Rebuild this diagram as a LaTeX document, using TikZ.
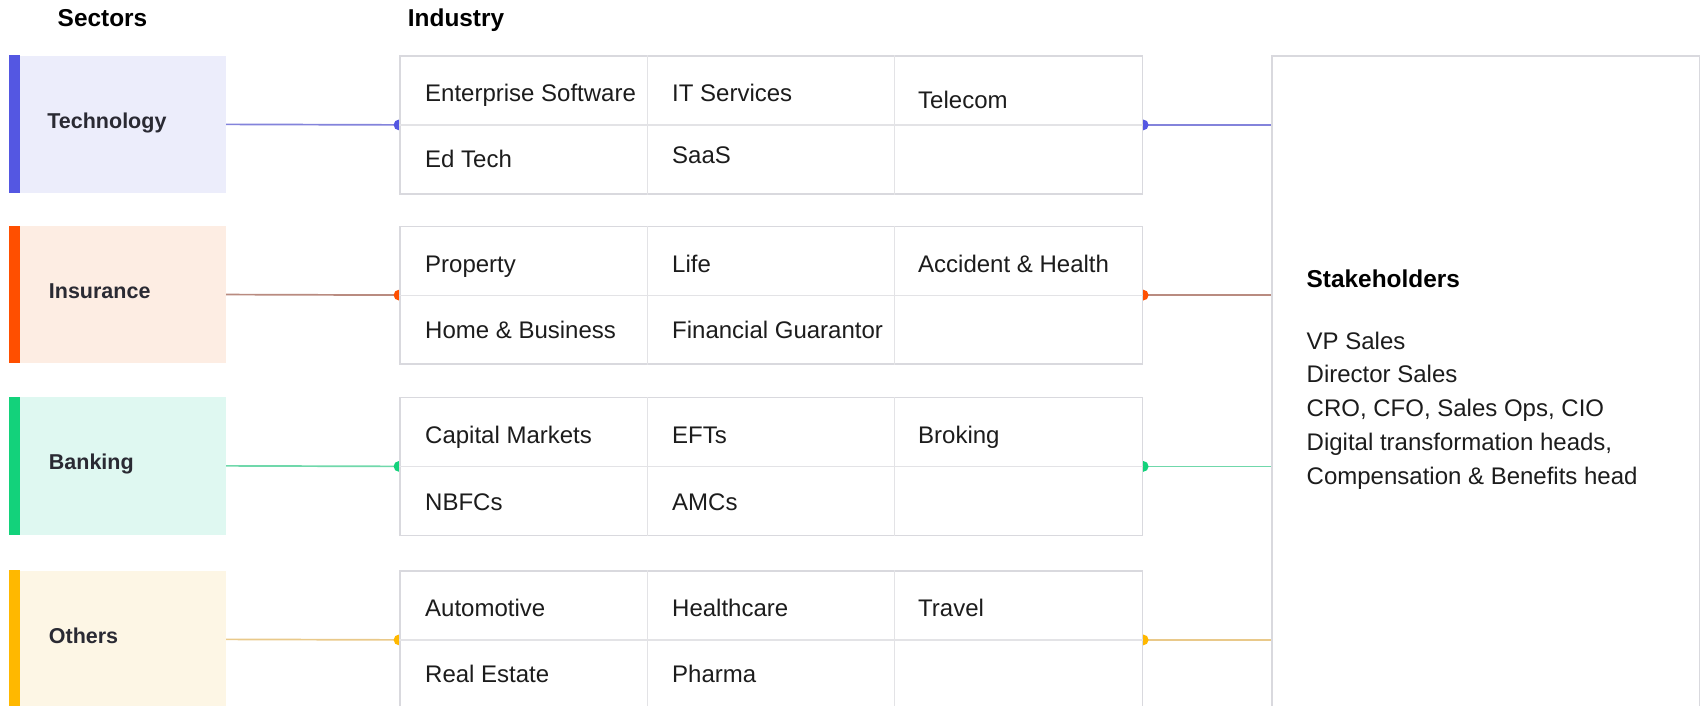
\documentclass[tikz,border=0pt]{standalone}
\usepackage{fontspec}
\setmainfont{Liberation Sans}
\usetikzlibrary{
    positioning, % For relative placement
    backgrounds  % For drawing connectors behind the boxes
}

\definecolor{techaccent}{HTML}{5457E2}
\definecolor{techfill}{HTML}{ECEDFB}
\definecolor{techline}{HTML}{8383DB}
\definecolor{insaccent}{HTML}{FF4F00}
\definecolor{insfill}{HTML}{FDEDE3}
\definecolor{insline}{HTML}{B98B80}
\definecolor{bankaccent}{HTML}{13D27B}
\definecolor{bankfill}{HTML}{DFF8F1}
\definecolor{bankline}{HTML}{70D8AB}
\definecolor{othaccent}{HTML}{FFB800}
\definecolor{othfill}{HTML}{FDF6E5}
\definecolor{othline}{HTML}{E9C98A}
\definecolor{sectortext}{HTML}{2A2A33}
\definecolor{bodytext}{HTML}{1C1C1C}
\definecolor{tableborder}{HTML}{D9D9DE}
\definecolor{gridgray}{HTML}{E3E3E6}

\begin{document}
\begin{tikzpicture}[
    x=1pt, y=-1pt, % One unit per pixel, y pointing down
    headtitle/.style={font=\fontsize{24.4}{28}\selectfont\bfseries, inner sep=0pt, text height=17.5pt, text depth=0pt},
    sectorbox/.style={minimum width=216.8pt, minimum height=137.7pt, anchor=north west, inner sep=0pt},
    sectorlabel/.style={font=\fontsize{21.5}{25}\selectfont\bfseries, text=sectortext, anchor=west, inner sep=0pt, text height=15.4pt, text depth=0pt},
    industrybox/.style={draw=tableborder, line width=1.5pt, fill=white, minimum width=742.7pt, minimum height=137.7pt, anchor=north west, inner sep=0pt},
    gridline/.style={draw=gridgray, line width=1.2pt},
    cell/.style={font=\fontsize{24}{28}\selectfont, text=bodytext, anchor=west, inner sep=0pt, text height=17.2pt, text depth=0pt},
    stakebox/.style={draw=tableborder, line width=2pt, fill=white, minimum width=428.5pt, minimum height=680pt, anchor=north west, inner sep=0pt},
    connector/.style={line width=1.7pt}
]

    \useasboundingbox (0,0) rectangle (1700,705);

    % Column positions of the industry cells
    \def\colA{425}
    \def\colB{672}
    \def\colC{918}
    \def\dotr{5.4} % Radius of the connector dots

    % Titles
    \node[headtitle] (sectorshead) at (102.5, 17.3) {Sectors};
    \node[headtitle, anchor=west] (industryhead) at (407.7, 17.3) {Industry};

    % Sector boxes with accent bars
    \node[sectorbox, fill=techfill] (tech) at (8.7, 55.3) {};
    \fill[techaccent] (tech.north west) rectangle ++(10.8, 137.7);
    \node[sectorlabel, right=38.5pt of tech.west, yshift=4pt] (techlabel) {Technology};

    \node[sectorbox, fill=insfill] (ins) at (8.7, 225.5) {};
    \fill[insaccent] (ins.north west) rectangle ++(10.8, 137.7);
    \node[sectorlabel, right=40pt of ins.west, yshift=4pt] (inslabel) {Insurance};

    \node[sectorbox, fill=bankfill] (bank) at (8.7, 396.8) {};
    \fill[bankaccent] (bank.north west) rectangle ++(10.8, 137.7);
    \node[sectorlabel, right=40pt of bank.west, yshift=4pt] (banklabel) {Banking};

    \node[sectorbox, fill=othfill] (oth) at (8.7, 570.3) {};
    \fill[othaccent] (oth.north west) rectangle ++(10.8, 137.7);
    \node[sectorlabel, right=40pt of oth.west, yshift=4pt] (othlabel) {Others};

    % Industry tables
    \node[industrybox] (techtab) at (399, 55.3) {};
    \node[industrybox] (instab) at (399, 225.5) {};
    \node[industrybox] (banktab) at (399, 396.8) {};
    \node[industrybox] (othtab) at (399, 570.3) {};

    % Grid lines inside the tables
    \draw[gridline] (techtab.west) -- (techtab.east);
    \draw[gridline] ([xshift=248.3pt]techtab.north west) -- ([xshift=248.3pt]techtab.south west);
    \draw[gridline] ([xshift=495.5pt]techtab.north west) -- ([xshift=495.5pt]techtab.south west);
    \draw[gridline] (instab.west) -- (instab.east);
    \draw[gridline] ([xshift=248.3pt]instab.north west) -- ([xshift=248.3pt]instab.south west);
    \draw[gridline] ([xshift=495.5pt]instab.north west) -- ([xshift=495.5pt]instab.south west);
    \draw[gridline] (banktab.west) -- (banktab.east);
    \draw[gridline] ([xshift=248.3pt]banktab.north west) -- ([xshift=248.3pt]banktab.south west);
    \draw[gridline] ([xshift=495.5pt]banktab.north west) -- ([xshift=495.5pt]banktab.south west);
    \draw[gridline] (othtab.west) -- (othtab.east);
    \draw[gridline] ([xshift=248.3pt]othtab.north west) -- ([xshift=248.3pt]othtab.south west);
    \draw[gridline] ([xshift=495.5pt]othtab.north west) -- ([xshift=495.5pt]othtab.south west);

    % Technology cells
    \node[cell] (entsw) at (\colA, 93.3) {Enterprise Software};
    \node[cell] (itserv) at (\colB, 93.3) {IT Services};
    \node[cell] (telecom) at (\colC, 99.7) {Telecom};
    \node[cell] (edtech) at (\colA, 159.3) {Ed Tech};
    \node[cell] (saas) at (\colB, 155) {SaaS};

    % Insurance cells
    \node[cell] (property) at (\colA, 263.5) {Property};
    \node[cell] (life) at (\colB, 263.5) {Life};
    \node[cell] (accident) at (\colC, 263.5) {Accident \& Health};
    \node[cell] (homebiz) at (\colA, 329.5) {Home \& Business};
    \node[cell] (guarantor) at (\colB, 329.5) {Financial Guarantor};

    % Banking cells
    \node[cell] (capmkt) at (\colA, 434.8) {Capital Markets};
    \node[cell] (efts) at (\colB, 434.8) {EFTs};
    \node[cell] (broking) at (\colC, 434.8) {Broking};
    \node[cell] (nbfcs) at (\colA, 501.5) {NBFCs};
    \node[cell] (amcs) at (\colB, 501.5) {AMCs};

    % Other cells
    \node[cell] (auto) at (\colA, 608) {Automotive};
    \node[cell] (health) at (\colB, 608) {Healthcare};
    \node[cell] (travel) at (\colC, 608) {Travel};
    \node[cell] (realest) at (\colA, 674.3) {Real Estate};
    \node[cell] (pharma) at (\colB, 674.3) {Pharma};

    % Stakeholder panel
    \node[stakebox] (stake) at (1270.7, 55.3) {};
    \node[headtitle, anchor=west] (stakehead) at (1306.5, 278.6) {Stakeholders};
    \node[cell] (vp) at (1306.5, 340.4) {VP Sales};
    \node[cell, below=16.2pt of vp.south west, anchor=north west] (dirsales) {Director Sales};
    \node[cell, below=16.2pt of dirsales.south west, anchor=north west] (cxo) {CRO, CFO, Sales Ops, CIO};
    \node[cell, below=16.2pt of cxo.south west, anchor=north west] (digital) {Digital transformation heads,};
    \node[cell, below=16.2pt of digital.south west, anchor=north west] (comp) {Compensation \& Benefits head};

    % Connectors and dots (behind the boxes)
    \begin{scope}[on background layer]
        \draw[connector, techline] (tech.east) -- (techtab.west);
        \draw[connector, techline] (techtab.east) -- (stake.west |- techtab.east);
        \fill[techaccent] (techtab.west) circle (\dotr);
        \fill[techaccent] (techtab.east) circle (\dotr);

        \draw[connector, insline] (ins.east) -- (instab.west);
        \draw[connector, insline] (instab.east) -- (stake.west |- instab.east);
        \fill[insaccent] (instab.west) circle (\dotr);
        \fill[insaccent] (instab.east) circle (\dotr);

        \draw[connector, bankline] (bank.east) -- (banktab.west);
        \draw[connector, bankline] (banktab.east) -- (stake.west |- banktab.east);
        \fill[bankaccent] (banktab.west) circle (\dotr);
        \fill[bankaccent] (banktab.east) circle (\dotr);

        \draw[connector, othline] (oth.east) -- (othtab.west);
        \draw[connector, othline] (othtab.east) -- (stake.west |- othtab.east);
        \fill[othaccent] (othtab.west) circle (\dotr);
        \fill[othaccent] (othtab.east) circle (\dotr);
    \end{scope}

\end{tikzpicture}
\end{document}
